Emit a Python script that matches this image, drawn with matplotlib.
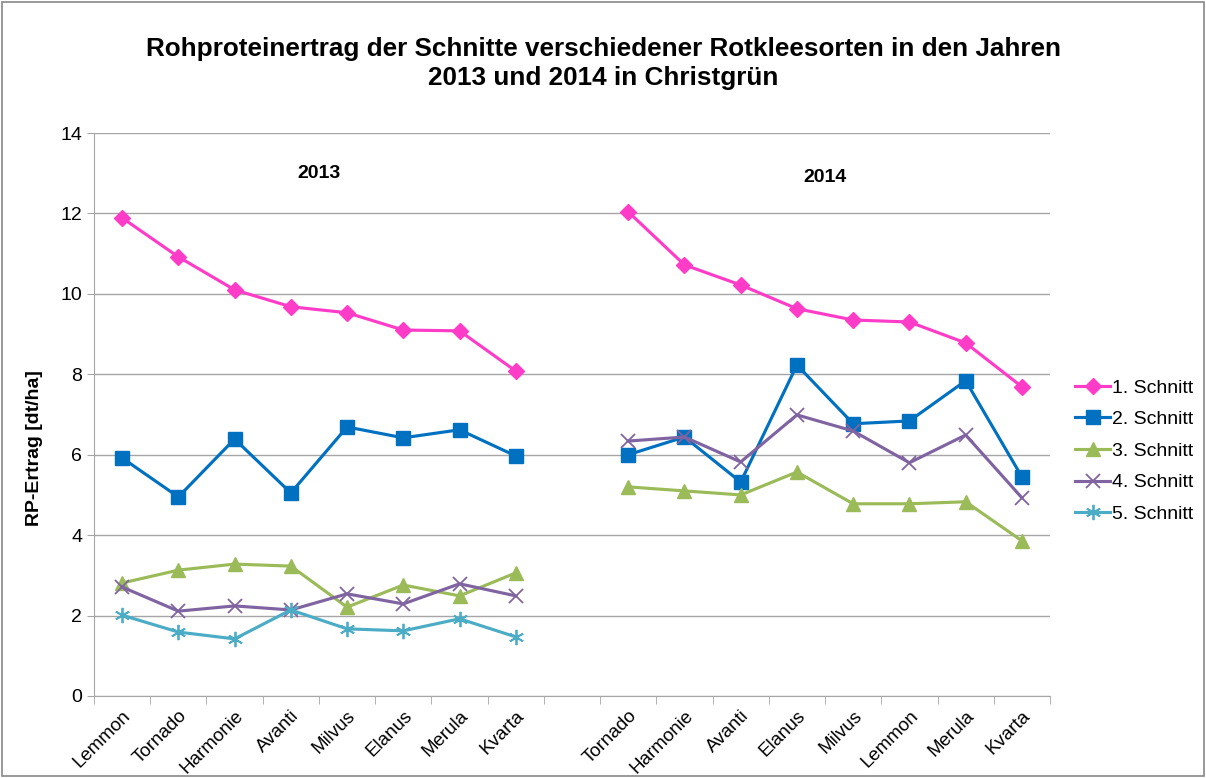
import matplotlib
matplotlib.use("Agg")
import matplotlib.pyplot as plt
import numpy as np

plt.rcParams['font.family'] = ['Liberation Sans', 'DejaVu Sans']

sorten_2013 = ["Lemmon", "Tornado", "Harmonie", "Avanti", "Milvus", "Elanus", "Merula", "Kvarta"]
sorten_2014 = ["Tornado", "Harmonie", "Avanti", "Elanus", "Milvus", "Lemmon", "Merula", "Kvarta"]

s1_2013 = [11.89, 10.92, 10.10, 9.68, 9.53, 9.10, 9.08, 8.08]
s2_2013 = [5.92, 4.95, 6.39, 5.05, 6.69, 6.42, 6.62, 5.97]
s3_2013 = [2.81, 3.13, 3.28, 3.23, 2.21, 2.76, 2.49, 3.06]
s4_2013 = [2.71, 2.11, 2.24, 2.14, 2.54, 2.29, 2.79, 2.49]
s5_2013 = [2.01, 1.59, 1.42, 2.14, 1.67, 1.62, 1.92, 1.47]

s1_2014 = [12.04, 10.72, 10.22, 9.63, 9.35, 9.30, 8.78, 7.69]
s2_2014 = [6.00, 6.44, 5.32, 8.23, 6.77, 6.84, 7.84, 5.45]
s3_2014 = [5.20, 5.10, 5.00, 5.57, 4.78, 4.78, 4.83, 3.86]
s4_2014 = [6.34, 6.44, 5.82, 6.99, 6.59, 5.80, 6.49, 4.93]
s5_2014 = [np.nan] * 8

series_names = ["1. Schnitt", "2. Schnitt", "3. Schnitt", "4. Schnitt", "5. Schnitt"]
categories = sorten_2013 + [""] + sorten_2014

def join(a, b):
    return list(a) + [np.nan] + list(b)

data = [join(s1_2013, s1_2014), join(s2_2013, s2_2014), join(s3_2013, s3_2014),
        join(s4_2013, s4_2014), join(s5_2013, s5_2014)]

colors = ["#FF3CC8", "#0070C0", "#9BBB59", "#8064A2", "#4BACC6"]
markers = ["D", "s", "^", "x", (6, 2, 0)]
msizes = [8, 10, 10, 10, 11]

fig = plt.figure(figsize=(12.06, 7.78), dpi=100)
ax = fig.add_axes([94/1206, 82/778, 956/1206, 563/778])

x = np.arange(len(categories))
for vals, name, c, m, ms in zip(data, series_names, colors, markers, msizes):
    y = np.array(vals, dtype=float)
    kw = dict(markeredgecolor=c, markerfacecolor=c)
    if m in ("x",) or isinstance(m, tuple):
        kw['markeredgewidth'] = 1.3
    ax.plot(x, y, color=c, lw=2.25, marker=m, markersize=ms, label=name, **kw)

ax.set_xlim(-0.5, len(categories) - 0.5)
ax.set_ylim(0, 14)
ax.set_yticks(np.arange(0, 15, 2))
ax.yaxis.grid(True, color="#A6A6A6", lw=1)
ax.set_axisbelow(True)
ax.set_xticks(x)
ax.set_xticklabels(categories, rotation=45, ha="right", rotation_mode="anchor", fontsize=13.5)
ax.set_xticks(np.arange(-0.5, len(categories), 1), minor=True)
ax.tick_params(axis="x", which="major", length=0, pad=8)
ax.tick_params(axis="x", which="minor", length=6, color="#A6A6A6")
ax.tick_params(axis="y", length=5, color="#A6A6A6", labelsize=14)
for sp in ["top", "right"]:
    ax.spines[sp].set_visible(False)
for sp in ["left", "bottom"]:
    ax.spines[sp].set_color("#A6A6A6")

ax.set_ylabel("RP-Ertrag [dt/ha]", fontsize=14, fontweight="bold")
ax.yaxis.set_label_coords((43 - 94) / 956, (696 - 448) / 563)

ax.text(3.5, 13.0, "2013", ha="center", va="center", fontsize=14, fontweight="bold")
ax.text(12.5, 12.9, "2014", ha="center", va="center", fontsize=14, fontweight="bold")

fig.suptitle("Rohproteinertrag der Schnitte verschiedener Rotkleesorten in den Jahren\n2013 und 2014 in Christgrün",
             x=0.5, y=0.953, fontsize=18.8, fontweight="bold", linespacing=1.3)

ax.legend(loc="center left", bbox_to_anchor=(1.008, (696 - 451) / 563), frameon=False, fontsize=14,
          handlelength=1.8, labelspacing=0.72, handletextpad=0.12)

border = plt.Rectangle((0.002, 0.002), 0.996, 0.996, transform=fig.transFigure,
                       fill=False, edgecolor="#888888", lw=1.2)
fig.patches.append(border)

fig.savefig("out.png", dpi=100)
